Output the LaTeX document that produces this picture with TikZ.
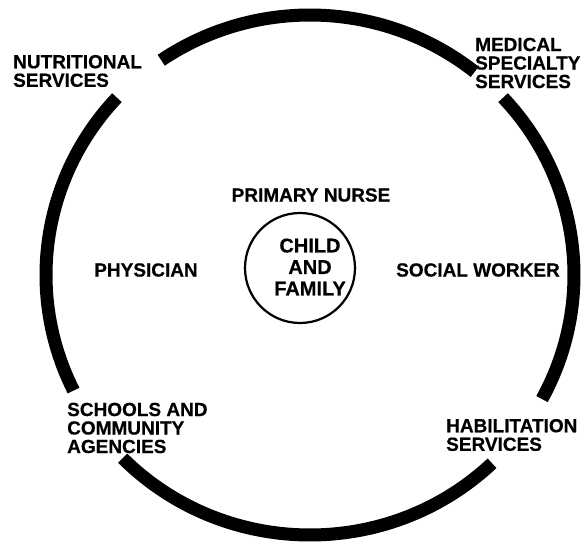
\documentclass[tikz,border=0pt]{standalone}
\usepackage{fontspec}
\setmainfont{Liberation Sans}
\newfontfamily\heavy[FakeBold=0.5]{Liberation Sans Bold}
\usepackage{tikz}

\begin{document}
\begin{tikzpicture}[x=1pt, y=1pt,
	txt/.style={font=\heavy\fontsize{19}{18.5}\selectfont, inner sep=0pt, align=left},
	ring/.style={line width=13pt}]
	\useasboundingbox (0,0) rectangle (587,542);
	%% outer ring, broken where the outer services sit
	\draw[ring] (310,267) ++(51.4:264 and 260) arc[start angle=51.4, end angle=124.3, x radius=264, y radius=260];
	\draw[ring] (310,267) ++(137:264 and 260) arc[start angle=137, end angle=206.4, x radius=264, y radius=260];
	\draw[ring] (310,267) ++(224.8:264 and 260) arc[start angle=224.8, end angle=313.6, x radius=264, y radius=260];
	\draw[ring] (310,267) ++(331.5:264 and 260) arc[start angle=331.5, end angle=403, x radius=264, y radius=260];
	%%
	\node[draw, circle, line width=2.2pt, minimum size=110pt, inner sep=0pt] (core) at (300,274) {};
	\node[txt, align=center, font=\heavy\fontsize{20}{21.5}\selectfont] (child) at (310,275) {CHILD\\AND\\FAMILY};
	%%
	\node[txt] (nurse) at (311,347) {PRIMARY NURSE};
	\node[txt] (physician) at (146,272) {PHYSICIAN};
	\node[txt] (social) at (478,272) {SOCIAL WORKER};
	%%
	\node[txt, anchor=west] (nutrition) at (13,471) {NUTRITIONAL\\SERVICES};
	\node[txt, anchor=west] (medical) at (475,479) {MEDICAL\\SPECIALTY\\SERVICES};
	\node[txt, anchor=west] (schools) at (67,114) {SCHOOLS AND\\COMMUNITY\\AGENCIES};
	\node[txt, anchor=west] (habilitation) at (446,107) {HABILITATION\\SERVICES};
\end{tikzpicture}
\end{document}
